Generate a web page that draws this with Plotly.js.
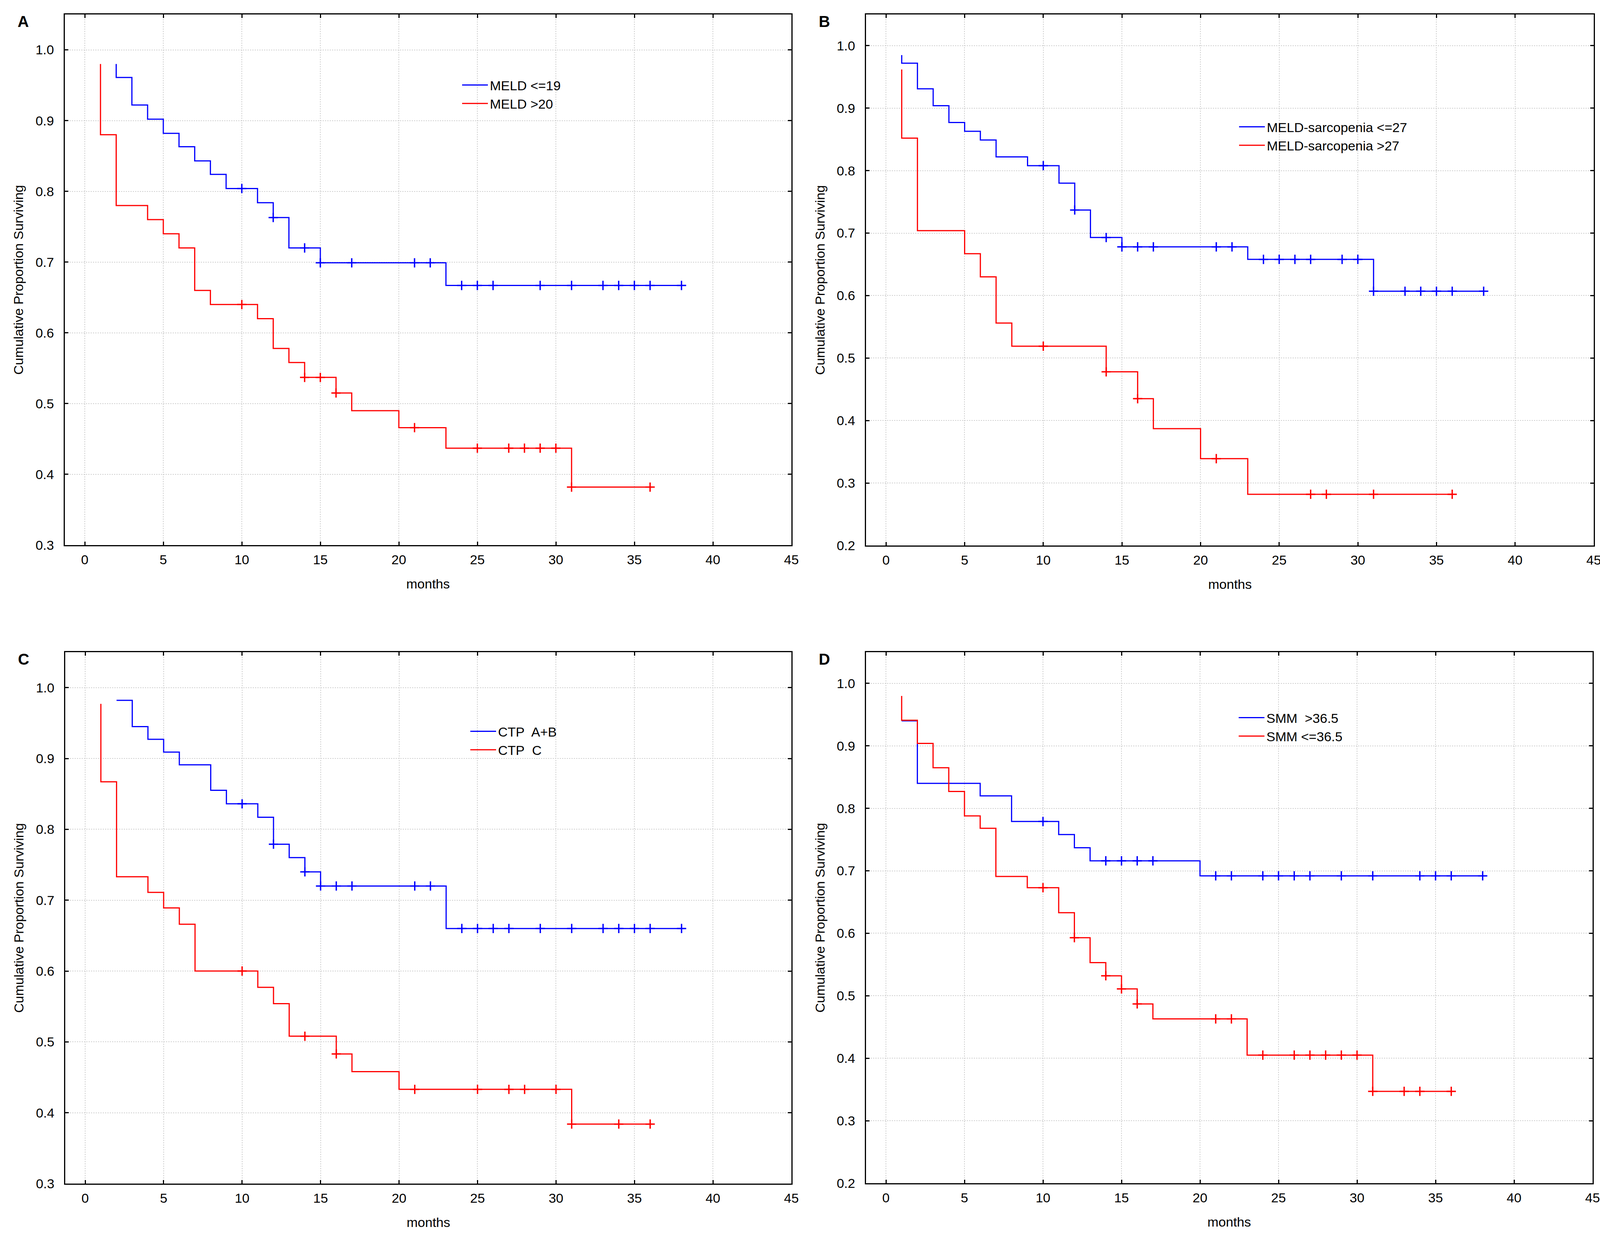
<!DOCTYPE html>
<html>
<head>
<meta charset="utf-8">
<script src="https://cdn.plot.ly/plotly-3.0.1.min.js"></script>
<style>html,body{margin:0;padding:0;background:#fff;}</style>
</head>
<body>
<div id="chart" style="width:4113px;height:3158px;"></div>
<script>
// ---------- DATA ----------
const xTicks = [0, 5, 10, 15, 20, 25, 30, 35, 40, 45];
const yTicksAC = [0.3, 0.4, 0.5, 0.6, 0.7, 0.8, 0.9, 1.0];
const yTicksBD = [0.2, 0.3, 0.4, 0.5, 0.6, 0.7, 0.8, 0.9, 1.0];

// Panel A
const A_names = ['MELD <=19', 'MELD >20'];
const A_blue_t = [2, 2, 3, 4, 5, 6, 7, 8, 9, 11, 12, 13, 15, 23, 38];
const A_blue_s = [0.980, 0.961, 0.922, 0.902, 0.882, 0.863, 0.843, 0.824, 0.804, 0.784, 0.763, 0.720, 0.699, 0.667, 0.667];
const A_blue_c = [10, 12, 14, 15, 17, 21, 22, 24, 25, 26, 29, 31, 33, 34, 35, 36, 38];
const A_red_t = [1, 1, 2, 4, 5, 6, 7, 8, 11, 12, 13, 14, 16, 17, 20, 23, 31, 36];
const A_red_s = [0.980, 0.880, 0.780, 0.760, 0.740, 0.720, 0.660, 0.640, 0.620, 0.578, 0.558, 0.537, 0.515, 0.490, 0.466, 0.437, 0.382, 0.382];
const A_red_c = [10, 14, 15, 16, 21, 25, 27, 28, 29, 30, 31, 36];

// Panel B
const B_names = ['MELD-sarcopenia <=27', 'MELD-sarcopenia >27'];
const B_blue_t = [1, 1, 2, 3, 4, 5, 6, 7, 9, 11, 12, 13, 15, 23, 31, 38];
const B_blue_s = [0.985, 0.972, 0.931, 0.904, 0.877, 0.863, 0.849, 0.822, 0.808, 0.780, 0.737, 0.693, 0.678, 0.658, 0.607, 0.607];
const B_blue_c = [10, 12, 14, 15, 16, 17, 21, 22, 24, 25, 26, 27, 29, 30, 31, 33, 34, 35, 36, 38];
const B_red_t = [1, 1, 2, 5, 6, 7, 8, 14, 16, 17, 20, 23, 36];
const B_red_s = [0.962, 0.852, 0.704, 0.667, 0.630, 0.556, 0.519, 0.478, 0.435, 0.387, 0.339, 0.282, 0.282];
const B_red_c = [10, 14, 16, 21, 27, 28, 31, 36];

// Panel C
const C_names = ['CTP\u00a0 A+B', 'CTP\u00a0 C'];
const C_blue_t = [2, 3, 4, 5, 6, 8, 9, 11, 12, 13, 14, 15, 23, 38];
const C_blue_s = [0.982, 0.945, 0.927, 0.909, 0.891, 0.855, 0.836, 0.817, 0.779, 0.760, 0.740, 0.720, 0.660, 0.660];
const C_blue_c = [10, 12, 14, 15, 16, 17, 21, 22, 24, 25, 26, 27, 29, 31, 33, 34, 35, 36, 38];
const C_red_t = [1, 1, 2, 4, 5, 6, 7, 11, 12, 13, 16, 17, 20, 31, 36];
const C_red_s = [0.977, 0.867, 0.733, 0.711, 0.689, 0.666, 0.600, 0.577, 0.554, 0.508, 0.483, 0.458, 0.433, 0.384, 0.384];
const C_red_c = [10, 14, 16, 21, 25, 27, 28, 30, 31, 34, 36];

// Panel D
const D_names = ['SMM\u00a0 >36.5', 'SMM <=36.5'];
const D_blue_t = [1, 2, 6, 8, 11, 12, 13, 20, 38];
const D_blue_s = [0.940, 0.840, 0.820, 0.779, 0.758, 0.737, 0.716, 0.692, 0.692];
const D_blue_c = [10, 14, 15, 16, 17, 21, 22, 24, 25, 26, 27, 29, 31, 34, 35, 36, 38];
const D_red_t = [1, 1, 2, 3, 4, 5, 6, 7, 9, 11, 12, 13, 14, 15, 16, 17, 23, 31, 36];
const D_red_s = [0.980, 0.941, 0.904, 0.865, 0.827, 0.788, 0.768, 0.691, 0.673, 0.633, 0.593, 0.553, 0.532, 0.511, 0.487, 0.463, 0.405, 0.347, 0.347];
const D_red_c = [10, 12, 14, 15, 16, 21, 22, 24, 26, 27, 28, 29, 30, 31, 33, 34, 36];

const panelLetters = ['A', 'B', 'C', 'D'];
const xTitle = 'months';
const yTitle = 'Cumulative Proportion Surviving';

// ---------- STYLE / LAYOUT ----------
const W = 4113, H = 3158;
const FONT = '"Liberation Sans", Arial, Helvetica, sans-serif';
const BLUE = '#0000ff', RED = '#ff0000';

// plot frames in pixels: [left, right, top, bottom]
const frames = [
  [166, 2026, 37, 1395],
  [2217, 4080, 37, 1396],
  [167, 2026, 1669, 3029],
  [2217, 4077, 1669, 3028]
];
const yRanges = [[0.3, 1.05], [0.2, 1.05], [0.3, 1.05], [0.2, 1.05]];
const yTickSets = [yTicksAC, yTicksBD, yTicksAC, yTicksBD];
const legendPos = [[1178, 189], [3167, 296], [1199, 1843], [3166, 1808]];

function px2x(p) { return p / W; }
function px2y(p) { return 1 - p / H; }

function stepAt(t, times, surv) {
  let v = surv[0];
  for (let i = 0; i < times.length; i++) { if (times[i] <= t) v = surv[i]; }
  return v;
}

const panels = [
  {names: A_names, bt: A_blue_t, bs: A_blue_s, bc: A_blue_c, rt: A_red_t, rs: A_red_s, rc: A_red_c},
  {names: B_names, bt: B_blue_t, bs: B_blue_s, bc: B_blue_c, rt: B_red_t, rs: B_red_s, rc: B_red_c},
  {names: C_names, bt: C_blue_t, bs: C_blue_s, bc: C_blue_c, rt: C_red_t, rs: C_red_s, rc: C_red_c},
  {names: D_names, bt: D_blue_t, bs: D_blue_s, bc: D_blue_c, rt: D_red_t, rs: D_red_s, rc: D_red_c}
];

const traces = [];
const layout = {
  width: W, height: H,
  margin: {l: 0, r: 0, t: 0, b: 0, pad: 0},
  paper_bgcolor: '#ffffff', plot_bgcolor: '#ffffff',
  font: {family: FONT, size: 34, color: '#000'},
  showlegend: true,
  annotations: []
};

panels.forEach((p, i) => {
  const n = i === 0 ? '' : String(i + 1);
  const xa = 'x' + n, ya = 'y' + n;
  const lg = 'legend' + n;
  const f = frames[i];
  const addLine = (t, s, color, name) => traces.push({
    type: 'scatter', mode: 'lines', x: t, y: s, name: name,
    xaxis: xa, yaxis: ya, legend: lg,
    line: {color: color, width: 3, shape: 'hv'},
    hoverinfo: 'x+y'
  });
  const addCens = (c, t, s, color) => traces.push({
    type: 'scatter', mode: 'markers', x: c, y: c.map(v => stepAt(v, t, s)),
    xaxis: xa, yaxis: ya, showlegend: false, legend: lg,
    marker: {symbol: 'cross-thin', size: 17, color: color, line: {color: color, width: 3.5}},
    hoverinfo: 'x+y'
  });
  addLine(p.bt, p.bs, BLUE, p.names[0]);
  addCens(p.bc, p.bt, p.bs, BLUE);
  addLine(p.rt, p.rs, RED, p.names[1]);
  addCens(p.rc, p.rt, p.rs, RED);

  const axCommon = {
    showline: true, linecolor: '#000', linewidth: 3, mirror: 'allticks',
    ticks: 'inside', ticklen: 9, tickwidth: 3, tickcolor: '#000',
    showgrid: true, gridcolor: '#cfcfcf', gridwidth: 2, griddash: 'dot',
    zeroline: false, fixedrange: true, automargin: false,
    tickfont: {family: FONT, size: 34, color: '#000'}
  };
  layout['xaxis' + n] = Object.assign({}, axCommon, {
    domain: [px2x(f[0]), px2x(f[1])], anchor: ya,
    range: [-1.27, 45], tickmode: 'array', tickvals: xTicks,
    ticktext: xTicks.map(String), ticklabelstandoff: 5
  });
  layout['yaxis' + n] = Object.assign({}, axCommon, {
    domain: [px2y(f[3]), px2y(f[2])], anchor: xa,
    range: yRanges[i], tickmode: 'array', tickvals: yTickSets[i],
    ticktext: yTickSets[i].map(v => v.toFixed(1)), ticklabelstandoff: 18
  });
  layout[lg] = {
    x: px2x(legendPos[i][0]), y: px2y(legendPos[i][1]),
    xanchor: 'left', yanchor: 'top', xref: 'paper', yref: 'paper',
    bgcolor: 'rgba(0,0,0,0)', borderwidth: 0,
    font: {family: FONT, size: 34, color: '#000'},
    itemwidth: 66, tracegroupgap: 0
  };
  // panel letter
  layout.annotations.push({
    text: '<b>' + panelLetters[i] + '</b>', xref: 'paper', yref: 'paper',
    x: px2x(f[0] - 107), y: px2y(f[2] + 18), xanchor: 'center', yanchor: 'middle',
    showarrow: false, font: {family: FONT, size: 40, color: '#000'}
  });
  // x title
  layout.annotations.push({
    text: xTitle, xref: 'paper', yref: 'paper',
    x: px2x((f[0] + f[1]) / 2), y: px2y(f[3] + 99), xanchor: 'center', yanchor: 'middle',
    showarrow: false, font: {family: FONT, size: 34, color: '#000'}
  });
  // y title
  layout.annotations.push({
    text: yTitle, xref: 'paper', yref: 'paper', textangle: -90,
    x: px2x(f[0] - 119), y: px2y((f[2] + f[3]) / 2), xanchor: 'center', yanchor: 'middle',
    showarrow: false, font: {family: FONT, size: 34, color: '#000'}
  });
});

Plotly.newPlot('chart', traces, layout, {displayModeBar: false, staticPlot: true});
</script>
</body>
</html>
